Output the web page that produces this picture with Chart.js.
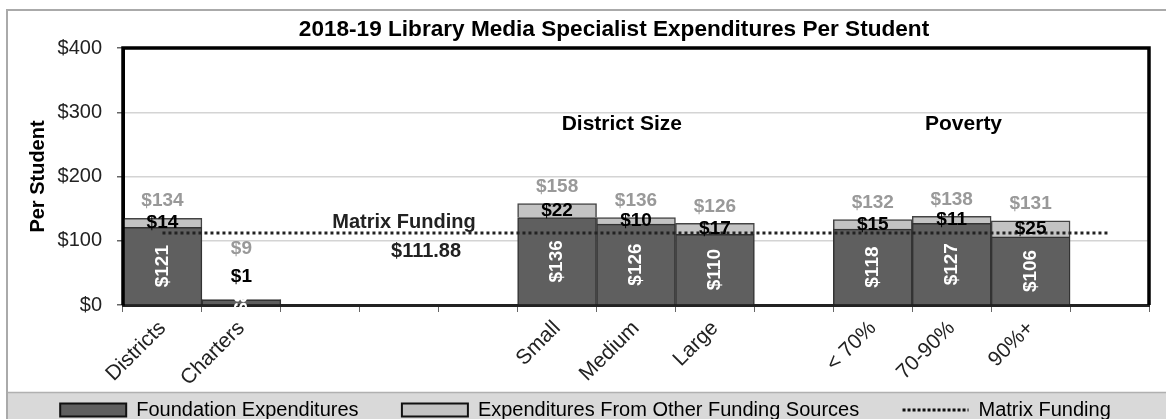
<!DOCTYPE html>
<html>
<head>
<meta charset="utf-8">
<title>Library Media Specialist Expenditures</title>
<script src="https://cdn.jsdelivr.net/npm/chart.js@4.4.1/dist/chart.umd.min.js"></script>
<style>
html,body{margin:0;padding:0;background:#fff;}
#wrap{width:1166px;height:419px;position:relative;}
</style>
</head>
<body>
<div id="wrap"><canvas id="myChart"></canvas></div>
<script>
// data
const categories = ["Districts", "Charters", "", "", "", "Small", "Medium", "Large", "", "< 70%", "70-90%", "90%+", ""];
const foundation = [121, 8, null, null, null, 136, 126, 110, null, 118, 127, 106, null];
const otherSources = [14, 1, null, null, null, 22, 10, 17, null, 15, 11, 25, null];
const totals = [134, 9, null, null, null, 158, 136, 126, null, 132, 138, 131, null];
const matrixFunding = [111.88, 111.88, 111.88, 111.88, 111.88, 111.88, 111.88, 111.88, 111.88, 111.88, 111.88, 111.88, 111.88];
const yTicks = [0, 100, 200, 300, 400];

const FONT = "'Liberation Sans', Arial, sans-serif";
const darkGray = "#5f5f5f";
const lightGray = "#c3c3c3";
const gap = "\u00a0\u00a0\u00a0\u00a0\u00a0\u00a0";

// background, outer frame, legend band, plot frame
const framePlugin = {
  id: "frame",
  beforeDraw(chart) {
    const ctx = chart.ctx;
    ctx.save();
    ctx.fillStyle = "#fff";
    ctx.fillRect(0, 0, chart.width, chart.height);
    ctx.fillStyle = "#d9d9d9";
    ctx.fillRect(7, 392, chart.width, chart.height - 392);
    ctx.strokeStyle = "#b0b0b0";
    ctx.lineWidth = 1.5;
    ctx.beginPath();
    ctx.moveTo(7, 392.5);
    ctx.lineTo(chart.width, 392.5);
    ctx.stroke();
    ctx.strokeStyle = "#aaa";
    ctx.lineWidth = 2;
    ctx.strokeRect(7, 10, chart.width + 10, chart.height + 10);
    ctx.restore();
  },
  afterDraw(chart) {
    const ctx = chart.ctx;
    const a = chart.chartArea;
    ctx.save();
    ctx.strokeStyle = "#000";
    ctx.lineWidth = 3.5;
    ctx.beginPath();
    ctx.moveTo(a.left, a.bottom);
    ctx.lineTo(a.left, a.top);
    ctx.lineTo(a.right, a.top);
    ctx.lineTo(a.right, a.bottom);
    ctx.stroke();
    // title
    ctx.fillStyle = "#000";
    ctx.font = "bold 22.6px " + FONT;
    ctx.textAlign = "center";
    ctx.textBaseline = "middle";
    ctx.fillText("2018-19 Library Media Specialist Expenditures Per Student", 614, 30);
    ctx.restore();
  }
};

// value labels and group captions
const labelPlugin = {
  id: "barLabels",
  afterDatasetsDraw(chart) {
    const ctx = chart.ctx;
    const xs = chart.scales.x, ys = chart.scales.y;
    ctx.save();
    ctx.textAlign = "center";
    ctx.textBaseline = "middle";
    categories.forEach(function (c, i) {
      if (foundation[i] == null) return;
      const px = xs.getPixelForValue(i);
      const base = ys.getPixelForValue(0);
      const fTop = ys.getPixelForValue(foundation[i]);
      const tTop = ys.getPixelForValue(foundation[i] + otherSources[i]);

      ctx.save();
      ctx.translate(px, (base + fTop) / 2);
      ctx.rotate(-Math.PI / 2);
      ctx.fillStyle = "#fff";
      ctx.font = "bold 19px " + FONT;
      ctx.fillText("$" + foundation[i], 0, 0);
      ctx.restore();

      let oy = (fTop + tTop) / 2;
      let ty = tTop - 17;
      if (base - tTop < 12) {
        oy = tTop - 22;
        ty = tTop - 50;
      }
      ctx.font = "bold 19px " + FONT;
      ctx.fillStyle = "#000";
      ctx.fillText("$" + otherSources[i], px, oy);
      ctx.fillStyle = "#999";
      ctx.fillText("$" + totals[i], px, ty);
    });

    ctx.fillStyle = "#000";
    ctx.font = "bold 21px " + FONT;
    ctx.fillText("District Size", xs.getPixelForValue(5.82), ys.getPixelForValue(281));
    ctx.fillText("Poverty", xs.getPixelForValue(10.15), ys.getPixelForValue(281));
    ctx.font = "bold 20px " + FONT;
    ctx.fillStyle = "#222";
    ctx.fillText("Matrix Funding", xs.getPixelForValue(3.06), ys.getPixelForValue(129));
    ctx.fillText("$111.88", xs.getPixelForValue(3.34), ys.getPixelForValue(84));
    ctx.restore();
  }
};

const ctx = document.getElementById("myChart").getContext("2d");
const myChart = new Chart(ctx, {
  type: "bar",
  data: {
    labels: categories,
    datasets: [
      {
        label: "Foundation Expenditures",
        data: foundation,
        backgroundColor: darkGray,
        borderColor: "#333",
        borderWidth: 1.5,
        barPercentage: 1,
        categoryPercentage: 1,
        stack: "s",
        order: 2
      },
      {
        label: "Expenditures From Other Funding Sources",
        data: otherSources,
        backgroundColor: lightGray,
        borderColor: "#444",
        borderWidth: 1.5,
        barPercentage: 1,
        categoryPercentage: 1,
        stack: "s",
        order: 2
      },
      {
        type: "line",
        label: "Matrix Funding",
        data: matrixFunding,
        borderColor: "#222",
        borderWidth: 3,
        borderDash: [3, 3],
        pointRadius: 0,
        fill: false,
        order: 1
      }
    ]
  },
  options: {
    responsive: true,
    maintainAspectRatio: false,
    animation: false,
    layout: { padding: { left: 22, right: 17, top: 48, bottom: -11 } },
    plugins: {
      title: { display: false },
      tooltip: { enabled: false },
      legend: {
        position: "bottom",
        labels: {
          usePointStyle: true,
          pointStyleWidth: 66,
          boxHeight: 13,
          padding: 10,
          color: "#111",
          font: { family: FONT, size: 20 },
          generateLabels: function () {
            return [
              { text: "Foundation Expenditures" + gap, fillStyle: darkGray, strokeStyle: "#111", lineWidth: 2, pointStyle: "rect", datasetIndex: 0 },
              { text: "Expenditures From Other Funding Sources" + gap, fillStyle: lightGray, strokeStyle: "#111", lineWidth: 2, pointStyle: "rect", datasetIndex: 1 },
              { text: "Matrix Funding", fillStyle: "#111", strokeStyle: "#111", lineWidth: 3, lineDash: [3, 2], pointStyle: "line", datasetIndex: 2 }
            ];
          }
        }
      }
    },
    scales: {
      x: {
        stacked: true,
        grid: { display: true, drawOnChartArea: false, offset: true, tickLength: 7, color: "#666" },
        border: { color: "#222", width: 3 },
        ticks: {
          autoSkip: false,
          maxRotation: 45,
          minRotation: 45,
          padding: 4,
          color: "#222",
          font: { family: FONT, size: 21 }
        },
        afterFit: function (s) { s.height = 85; }
      },
      y: {
        stacked: true,
        min: 0,
        max: 400,
        afterBuildTicks: function (s) { s.ticks = yTicks.map(v => ({ value: v })); },
        grid: { color: "#d4d4d4", lineWidth: 1.5, tickLength: 6, tickColor: "#666" },
        border: { color: "#000", width: 3 },
        ticks: {
          color: "#222",
          padding: 15,
          font: { family: FONT, size: 20 },
          callback: function (v) { return "$" + v; }
        },
        title: {
          display: true,
          text: "Per Student",
          color: "#000",
          font: { family: FONT, size: 20, weight: "bold" },
          padding: { top: 4, bottom: 2 }
        },
        afterFit: function (s) { s.width = 101; }
      }
    }
  },
  plugins: [framePlugin, labelPlugin]
});
</script>
</body>
</html>
